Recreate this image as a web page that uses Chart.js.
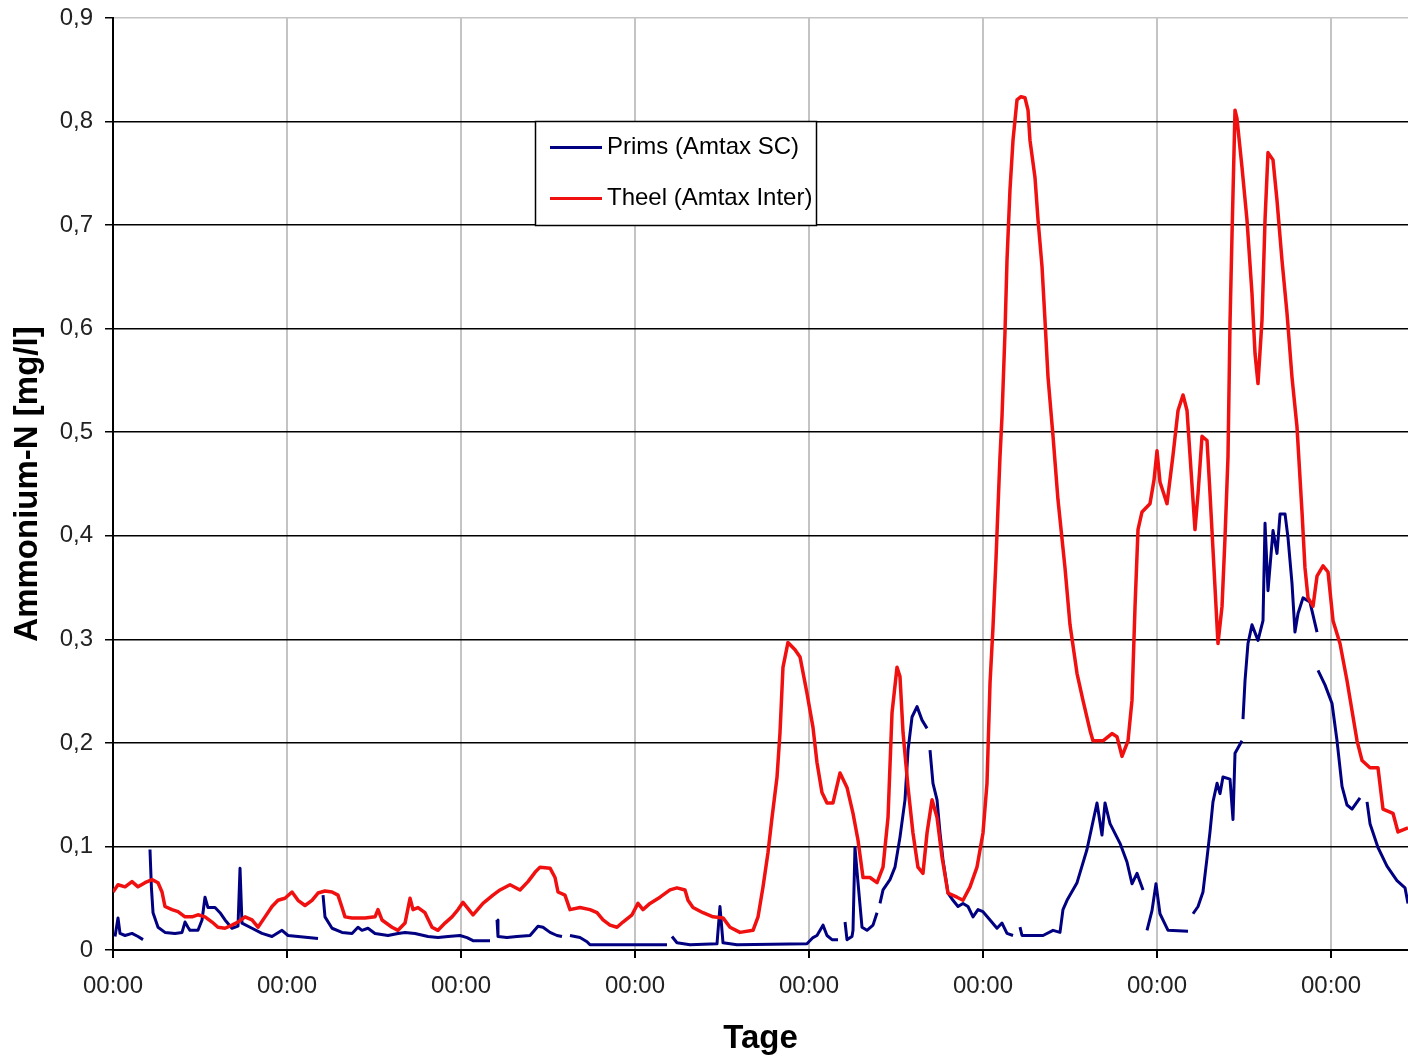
<!DOCTYPE html>
<html>
<head>
<meta charset="utf-8">
<script src="https://cdn.jsdelivr.net/npm/chart.js@4.4.1/dist/chart.umd.min.js"></script>
<style>
  html, body { margin: 0; padding: 0; background: #ffffff; overflow: hidden; }
  canvas { display: block; }
</style>
</head>
<body>
<canvas id="c" width="1408" height="1059"></canvas>
<script>
// ---- data (x in hours from start, y in mg/l) ----
const seriesNames = ['Prims (Amtax SC)', 'Theel (Amtax Inter)'];
const xTitle = 'Tage';
const yTitle = 'Ammonium-N [mg/l]';
const xTickLabel = '00:00';
const xMaxHours = 178.62;
const yMax = 0.9;

const theelHours = [0,0.69,1.66,2.62,3.45,4.41,5.38,6.21,6.76,7.17,8.14,8.97,9.93,10.90,11.72,12.69,13.66,14.48,15.45,16.41,17.24,18.21,19.17,20.00,20.97,21.93,22.76,23.72,24.69,25.52,26.48,27.45,28.28,29.24,30.21,31.03,31.59,32.00,32.97,34.76,36.14,36.55,37.10,38.48,39.31,40.28,40.97,41.38,42.07,43.03,44.00,44.83,45.79,46.76,47.59,48.28,49.66,51.03,52.41,53.38,54.76,56.14,57.24,58.21,58.90,60.28,60.97,61.38,62.34,63.03,64.41,65.79,66.76,67.59,68.55,69.52,70.34,71.59,72.41,73.10,74.07,75.45,76.83,77.79,78.90,79.31,80.00,81.38,82.76,84.14,85.10,86.48,88.28,88.97,89.66,90.34,90.90,91.59,92.00,92.41,93.10,94.07,94.76,95.72,96.55,97.10,97.79,98.48,99.31,100.28,101.24,102.07,102.76,103.45,104.41,105.38,106.21,106.90,107.45,108.14,108.55,108.97,109.66,110.34,111.03,111.72,112.28,112.97,113.66,114.34,115.17,116.41,117.24,118.21,119.17,120.00,120.55,120.97,121.38,121.79,122.34,122.62,123.03,123.31,123.72,124.14,124.69,125.24,125.79,126.21,126.48,127.17,127.59,128.14,128.55,128.97,129.66,130.34,131.31,132.00,132.97,133.79,134.76,135.17,136.55,137.79,138.48,139.17,140.00,140.55,140.97,141.38,141.93,143.03,143.59,144.00,144.41,145.38,146.21,146.90,147.59,148.14,148.55,149.24,149.66,150.21,150.90,151.31,151.72,152.41,152.97,153.38,153.79,154.07,154.34,154.76,155.03,155.72,156.41,157.10,157.52,157.93,158.48,158.90,159.31,160.00,160.55,161.24,161.93,162.62,163.31,164.00,164.41,164.83,165.52,166.07,166.90,167.59,168.28,169.24,170.21,170.90,171.59,172.28,173.38,174.48,175.17,176.55,177.24,178.62];
const theelValues = [0.056,0.063,0.061,0.066,0.061,0.065,0.068,0.065,0.056,0.042,0.039,0.037,0.032,0.032,0.034,0.032,0.027,0.022,0.021,0.024,0.027,0.032,0.029,0.022,0.032,0.042,0.048,0.050,0.056,0.048,0.043,0.048,0.055,0.057,0.056,0.053,0.041,0.032,0.031,0.031,0.032,0.039,0.029,0.022,0.019,0.026,0.050,0.039,0.041,0.036,0.022,0.019,0.026,0.032,0.039,0.046,0.034,0.045,0.053,0.058,0.063,0.058,0.066,0.075,0.080,0.079,0.070,0.056,0.053,0.039,0.041,0.039,0.036,0.029,0.024,0.022,0.027,0.034,0.045,0.039,0.045,0.051,0.058,0.060,0.058,0.048,0.041,0.036,0.032,0.031,0.022,0.017,0.019,0.032,0.061,0.094,0.128,0.167,0.210,0.273,0.297,0.290,0.283,0.248,0.215,0.181,0.152,0.142,0.142,0.171,0.157,0.132,0.106,0.070,0.070,0.065,0.080,0.128,0.229,0.273,0.264,0.210,0.157,0.113,0.080,0.074,0.113,0.145,0.128,0.090,0.055,0.051,0.048,0.061,0.080,0.113,0.161,0.258,0.312,0.377,0.476,0.515,0.596,0.666,0.734,0.782,0.821,0.824,0.823,0.811,0.782,0.746,0.705,0.660,0.608,0.553,0.496,0.435,0.369,0.314,0.267,0.241,0.212,0.202,0.202,0.209,0.206,0.187,0.202,0.241,0.332,0.406,0.423,0.431,0.454,0.482,0.452,0.431,0.478,0.521,0.536,0.521,0.478,0.406,0.441,0.496,0.492,0.441,0.387,0.296,0.332,0.398,0.476,0.605,0.689,0.811,0.803,0.756,0.705,0.634,0.576,0.547,0.608,0.705,0.770,0.763,0.724,0.666,0.615,0.553,0.505,0.423,0.369,0.340,0.332,0.361,0.371,0.365,0.318,0.296,0.260,0.231,0.202,0.183,0.176,0.176,0.136,0.132,0.114,0.118];

// null = gap in the Prims record
const primsHours = [0.28,0.69,0.97,1.66,2.62,3.45,4.14,4.6,
  5.10,5.30,5.52,6.21,7.17,8.55,9.52,9.93,10.34,10.62,11.72,12.28,12.69,13.10,14.07,14.76,15.45,16.41,17.24,17.52,17.79,19.17,20.55,21.93,23.31,24.14,25.52,26.90,28.28,28.6,
  28.97,29.24,30.21,31.59,32.97,33.79,34.34,35.17,36.14,37.93,39.31,40.28,41.66,43.45,44.83,46.21,47.86,48.83,49.66,52.00,52.5,
  52.97,53.10,54.34,55.72,57.52,58.62,59.31,60.28,61.24,61.93,62.5,
  63.03,64.41,65.38,65.79,76.41,76.8,
  77.10,77.79,79.59,83.31,83.72,84.14,86.07,95.72,96.55,97.10,97.93,98.48,99.17,100.00,100.5,
  100.97,101.24,101.93,102.07,102.34,102.76,103.31,104.00,104.83,105.38,105.6,
  105.79,106.21,107.17,107.86,108.55,109.24,109.66,110.21,110.90,111.59,112.28,112.5,
  112.69,113.10,113.66,114.07,114.48,115.17,115.86,116.55,117.24,117.93,118.62,119.31,120.00,120.97,121.93,122.62,123.31,124.14,124.6,
  125.10,125.38,128.28,129.66,130.62,131.03,131.59,132.97,134.34,135.72,136.41,136.83,137.52,138.90,139.86,140.55,141.24,142.07,142.3,
  142.62,143.31,143.86,144.41,145.52,148.28,148.6,
  148.97,149.66,150.34,150.90,151.31,151.72,152.28,152.69,153.10,154.07,154.48,154.76,155.72,155.8,
  155.86,156.14,156.55,157.10,157.93,158.62,158.90,159.31,160.00,160.55,160.97,161.66,162.07,162.62,163.03,163.45,164.14,165.10,166.07,166.14,
  166.21,167.17,168.14,168.83,169.52,170.21,170.90,172.00,172.5,
  172.97,173.38,174.48,175.72,177.10,178.21,178.62];
const primsValues = [0.013,0.031,0.016,0.014,0.016,0.013,0.010,null,
  0.097,0.060,0.036,0.022,0.017,0.016,0.017,0.027,0.022,0.019,0.019,0.029,0.051,0.041,0.041,0.036,0.029,0.021,0.023,0.079,0.026,0.021,0.016,0.013,0.019,0.014,0.013,0.012,0.011,null,
  0.053,0.032,0.021,0.017,0.016,0.022,0.019,0.021,0.016,0.014,0.016,0.017,0.016,0.013,0.012,0.013,0.014,0.012,0.009,0.009,null,
  0.029,0.013,0.012,0.013,0.014,0.023,0.022,0.017,0.014,0.013,null,
  0.014,0.012,0.008,0.005,0.005,null,
  0.013,0.007,0.005,0.006,0.042,0.007,0.005,0.006,0.012,0.014,0.024,0.014,0.010,0.010,null,
  0.027,0.010,0.013,0.019,0.099,0.065,0.022,0.019,0.024,0.036,null,
  0.045,0.058,0.068,0.080,0.109,0.145,0.193,0.225,0.235,0.222,0.214,null,
  0.193,0.161,0.145,0.113,0.087,0.055,0.048,0.042,0.045,0.042,0.032,0.039,0.037,0.029,0.021,0.026,0.016,0.014,null,
  0.022,0.014,0.014,0.019,0.017,0.039,0.048,0.065,0.097,0.142,0.111,0.142,0.122,0.103,0.085,0.064,0.074,0.058,null,
  0.019,0.038,0.064,0.035,0.019,0.018,null,
  0.035,0.042,0.056,0.089,0.114,0.143,0.161,0.151,0.167,0.165,0.126,0.190,0.202,null,
  0.223,0.260,0.296,0.314,0.299,0.318,0.412,0.347,0.405,0.383,0.421,0.421,0.398,0.354,0.307,0.325,0.340,0.336,0.307,null,
  0.270,0.256,0.238,0.202,0.158,0.140,0.136,0.147,null,
  0.143,0.122,0.099,0.081,0.067,0.060,0.045];

const primsColor = '#000080';
const theelColor = '#f01010';
const FONT = "'Liberation Sans', Arial, sans-serif";

function toPoints(xs, ys) { return xs.map((x, i) => ({ x: x, y: ys[i] })); }

const boxLegend = {
  id: 'boxLegend',
  afterDatasetsDraw(chart) {
    const ctx = chart.ctx;
    const x0 = 535.5, y0 = 121.5, w = 281, h = 104;
    ctx.save();
    ctx.fillStyle = '#ffffff';
    ctx.fillRect(x0, y0, w, h);
    ctx.strokeStyle = '#000000';
    ctx.lineWidth = 1.5;
    ctx.strokeRect(x0, y0, w, h);
    ctx.font = '24px ' + FONT;
    ctx.textBaseline = 'middle';
    ctx.textAlign = 'left';
    const rows = [147.5, 198.5];
    chart.data.datasets.forEach((ds, i) => {
      const y = rows[i];
      ctx.strokeStyle = ds.borderColor;
      ctx.lineWidth = 3;
      ctx.beginPath();
      ctx.moveTo(550, y);
      ctx.lineTo(602, y);
      ctx.stroke();
      ctx.fillStyle = '#000000';
      ctx.fillText(ds.label, 607, y);
    });
    ctx.restore();
  }
};

new Chart(document.getElementById('c'), {
  type: 'line',
  data: {
    datasets: [
      { label: seriesNames[0], data: toPoints(primsHours, primsValues), borderColor: primsColor,
        backgroundColor: primsColor, borderWidth: 3, pointRadius: 0, spanGaps: false, order: 1 },
      { label: seriesNames[1], data: toPoints(theelHours, theelValues), borderColor: theelColor,
        backgroundColor: theelColor, borderWidth: 3.5, pointRadius: 0, spanGaps: false, order: 0 }
    ]
  },
  options: {
    responsive: false,
    animation: false,
    devicePixelRatio: 1,
    parsing: true,
    elements: { line: { tension: 0, borderJoinStyle: 'round', borderCapStyle: 'butt' } },
    layout: { padding: { top: 18, left: 0, right: 0, bottom: 0 } },
    plugins: { legend: { display: false }, tooltip: { enabled: false } },
    scales: {
      x: {
        type: 'linear', min: 0, max: xMaxHours,
        afterFit: s => { s.height = 109; },
        border: { display: true, color: '#000000', width: 2 },
        grid: { color: '#c4c4c4', lineWidth: 2, tickColor: '#000000', tickLength: 8, drawTicks: true },
        ticks: { stepSize: 24, includeBounds: false, autoSkip: false, maxRotation: 0, padding: 14,
                 color: '#222222', font: { family: FONT, size: 24 }, callback: () => xTickLabel },
        title: { display: true, text: xTitle, color: '#000000',
                 font: { family: FONT, size: 33, weight: 'bold' }, padding: { top: 0, bottom: 0 } }
      },
      y: {
        type: 'linear', min: 0, max: yMax,
        afterFit: s => { s.width = 113; s.paddingTop = 0; s.paddingBottom = 0; },
        border: { display: true, color: '#000000', width: 2 },
        grid: { color: c => (c.tick && c.tick.value > 0.85) ? '#c4c4c4' : '#000000',
                lineWidth: 1.5, tickColor: '#000000', tickLength: 8, drawTicks: true },
        ticks: { stepSize: 0.1, padding: 12, color: '#222222', font: { family: FONT, size: 24 },
                 callback: v => (Math.abs(v) < 1e-9 ? '0' : v.toFixed(1).replace('.', ',')) },
        title: { display: true, text: yTitle, color: '#000000',
                 font: { family: FONT, size: 33, weight: 'bold' }, padding: { top: 8, bottom: 0 } }
      }
    }
  },
  plugins: [boxLegend]
});
</script>
</body>
</html>
